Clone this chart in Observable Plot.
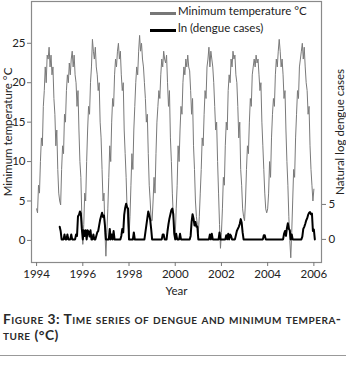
<!DOCTYPE html>
<html>
<head>
<meta charset="utf-8">
<script src="https://cdn.jsdelivr.net/npm/d3@7"></script>
<script src="https://cdn.jsdelivr.net/npm/@observablehq/plot@0.6"></script>
<style>
  body { margin: 0; background: #fff; font-family: Lato, "Open Sans", sans-serif; }
  #wrap { position: relative; width: 346px; height: 366px; }
  .leg { position: absolute; font-size: 11.5px; color: #222; white-space: nowrap; }
  .sw { position: absolute; width: 26px; height: 3px; }
  .title { position: absolute; left: 3px; font-size: 13.8px; line-height: 14px; font-weight: 700;
           font-variant: small-caps; color: #2a2a2a; white-space: nowrap; letter-spacing: 0.5px; }
  #rule { position: absolute; left: 0; top: 355px; width: 346px; height: 0; border-top: 1px solid #999; }
</style>
</head>
<body>
<div id="wrap">
  <div id="chart"></div>
  <div class="sw" style="left:150px; top:12px; background:#777;"></div>
  <div class="leg" style="left:178px; top:4px;">Minimum temperature °C</div>
  <div class="sw" style="left:150px; top:29px; background:#000;"></div>
  <div class="leg" style="left:178px; top:21px;">ln (dengue cases)</div>
  <div class="title" style="top:312px;">Figure 3: Time series of dengue and minimum tempera-</div>
  <div class="title" style="top:328px;">ture (°C)</div>
  <div id="rule"></div>
</div>
<script>
// Minimum temperature (°C), semi-monthly, starting 1994.0
const temp1994 = [4, 3.5, 7, 6, 10, 13, 12, 17, 19, 22, 20, 23.5, 23, 24.5, 22, 23.5, 21, 22, 18, 16, 12, 14, 9, 6];
const temp1995 = [5, 4.5, 9, 12, 11, 16, 15, 19, 21, 20, 22.5, 21, 23, 24, 22, 23.5, 21, 20, 17, 19, 14, 10, 8, 3];
const temp1996 = [-0.5, 2, 6, 5, 10, 14, 17, 16, 20, 22, 25.5, 24, 23, 24.5, 22, 21, 19, 20, 15, 13, 9, 5, 6, 1];
const temp1997 = [-2, 1, 4, 8, 12, 10, 15, 18, 17, 21, 23, 22, 24, 25, 23, 24, 21, 19, 20, 14, 11, 8, 4, 2];
const temp1998 = [0.5, 3, 7, 11, 9, 14, 17, 20, 22, 21, 24, 26, 24, 25, 23, 22, 20, 18, 15, 16, 11, 7, 5, 2.5];
const temp1999 = [2.5, 5, 8, 6, 11, 15, 17, 19, 18, 21, 23, 22, 24, 23, 22.5, 23.5, 20, 17, 19, 13, 10, 6, 3, 1];
const temp2000 = [0.6, 4, 7, 12, 10, 14, 17, 16, 20, 22, 21, 23, 22, 23.5, 22, 21.5, 19, 16, 18, 12, 9, 5, 3, 2];
const temp2001 = [1, 3, 6, 9, 13, 12, 16, 19, 18, 22, 23, 24.5, 22, 24, 23, 22, 20, 17, 14, 15, 10, 6, 2, -1];
const temp2002 = [1, 4, 8, 7, 12, 15, 14, 19, 21, 20, 23, 22, 24, 23, 23.5, 21, 20, 17, 13, 15, 9, 7, 4, 3];
const temp2003 = [2.5, 5, 9, 12, 11, 15, 18, 17, 21, 22, 23, 22, 23.5, 22.5, 23, 21, 19, 20, 15, 12, 9, 6, 4, 3.5];
const temp2004 = [4, 6, 10, 8, 13, 16, 18, 17, 21, 23, 22, 24, 25.5, 24, 22, 23, 21, 18, 19, 14, 10, 7, 3, 0];
const temp2005 = [-2.2, 1, 5, 9, 8, 13, 16, 19, 18, 22, 23, 24, 25, 23, 24.5, 22, 20, 19, 16, 17, 12, 9, 7, 5];
const temp2006 = [6.5];

// ln(dengue cases), semi-monthly, starting 1995.0
const ln1995 = [1.8, 1.2, 0, 0, 0, 0.7, 0, 0, 0.7, 0, 0, 0, 0.7, 0, 0, 0, 0, 0.7, 0.5, 3.3, 3.5, 4.0, 3.7, 1.5];
const ln1996 = [0, 1.3, 0.5, 1.3, 0, 1.3, 1.1, 0.4, 1.3, 0, 0, 0.7, 0, 0, 0.5, 1.0, 1.2, 2.0, 2.8, 3.3, 3.8, 3.2, 3.4, 2.0];
const ln1997 = [0, 0, 0, 0, 1.5, 0, 0.7, 0, 1.2, 0, 0, 0, 0, 0, 0, 0, 0.5, 1.5, 1.0, 3.5, 4.5, 5.1, 4.6, 4.4];
const ln1998 = [0, 0, 0, 0, 0, 1.0, 0, 0, 0, 0, 0, 0, 0, 0, 0, 0, 0, 1.0, 2.0, 3.0, 4.0, 3.5, 2.8, 1.5];
const ln1999 = [0, 0, 0, 0, 0, 0, 0, 0, 0, 0, 0, 0.7, 0.7, 0, 0, 0, 1.2, 2.2, 3.0, 3.6, 4.2, 4.4, 3.6, 0.8];
const ln2000 = [0, 0.8, 0, 0, 0, 0.8, 0, 0, 0, 0, 0, 0, 0, 0, 0, 0, 0.5, 2.5, 3.6, 3.0, 2.0, 2.5, 1.8, 1.8];
const ln2001 = [0, 0, 0, 0, 0, 0, 0, 0, 0, 0, 0, 0, 0.7, 0, 0.8, 0, 0, 0, 0, 0, 0, 0, 1.0, 0];
const ln2002 = [0, 0, 0, 0, 0, 0.6, 0, 0.8, 0, 0.7, 0.5, 0, 0, 0, 0, 0.6, 1.2, 1.5, 1.8, 2.2, 2.9, 2.4, 1.0, 0];
const ln2003 = [0, 0, 0, 0, 0, 0, 0, 0, 0, 0, 0, 0, 0, 0, 0, 0, 0, 0, 0, 0, 0.6, 0.6, 0, 0];
const ln2004 = [0, 0, 0, 0, 0, 0, 0, 0, 0, 0, 0, 0, 0, 0, 0, 0, 0, 0.8, 1.2, 0.5, 1.6, 2.3, 1.5, 1.3];
const ln2005 = [0, 0.7, 0, 0, 0, 0, 0, 0, 0, 0, 0, 0, 0.4, 1.5, 1.8, 2.2, 2.7, 3.0, 3.5, 3.8, 3.9, 3.6, 3.7, 1.2];
const ln2006 = [1.4, 0];

const yearTicks = [1994, 1996, 1998, 2000, 2002, 2004, 2006];
const tempTicks = [0, 5, 10, 15, 20, 25];
const lnTicks = [0, 5];

const tempValues = [temp1994, temp1995, temp1996, temp1997, temp1998, temp1999, temp2000,
  temp2001, temp2002, temp2003, temp2004, temp2005, temp2006].flat();
const lnValues = [ln1995, ln1996, ln1997, ln1998, ln1999, ln2000, ln2001, ln2002, ln2003,
  ln2004, ln2005, ln2006].flat();

const tempData = tempValues.map((v, i) => ({t: 1994 + i / 24, v}));
const lnData = lnValues.map((v, i) => ({t: 1995 + i / 24, v}));

// secondary axis: ln scale drawn on the temperature scale
const k = 0.887, b = 0.13;
const toT = v => k * v + b;

const chart = Plot.plot({
  width: 346,
  height: 300,
  marginLeft: 31,
  marginRight: 25,
  marginTop: 1,
  marginBottom: 38,
  style: {fontFamily: "Lato, 'Open Sans', sans-serif", fontSize: "11.5px", color: "#222", background: "#fff"},
  x: {domain: [1993.78, 2006.33]},
  y: {domain: [-2.8, 30.3]},
  marks: [
    Plot.frame({stroke: "#8a8a8a", strokeWidth: 1.2}),
    Plot.axisX(yearTicks, {tickFormat: d => String(d), tickSize: 4, tickPadding: 3, stroke: "#777",
      fill: "#222", label: null}),
    Plot.axisY(tempTicks, {tickSize: 4, tickPadding: 2, stroke: "#777", fill: "#222", label: null}),
    Plot.axisY(lnTicks.map(toT), {anchor: "right", tickSize: 4, tickPadding: 3, stroke: "#777", fill: "#222",
      tickFormat: d => String(Math.round((d - b) / k)), label: null}),
    Plot.text(["Year"], {frameAnchor: "bottom", dy: 29, lineAnchor: "middle", fill: "#222"}),
    Plot.text(["Minimum temperature °C"], {frameAnchor: "left", dx: -23, rotate: -90, textAnchor: "middle", lineAnchor: "middle", fill: "#222"}),
    Plot.text(["Natural log dengue cases"], {frameAnchor: "right", dx: 19, rotate: -90, textAnchor: "middle", lineAnchor: "middle", fill: "#222"}),
    Plot.line(tempData, {x: "t", y: "v", stroke: "#7a7a7a", strokeWidth: 1}),
    Plot.line(lnData, {x: "t", y: d => toT(d.v), stroke: "#000", strokeWidth: 2})
  ]
});
document.getElementById("chart").appendChild(chart);
</script>
</body>
</html>
